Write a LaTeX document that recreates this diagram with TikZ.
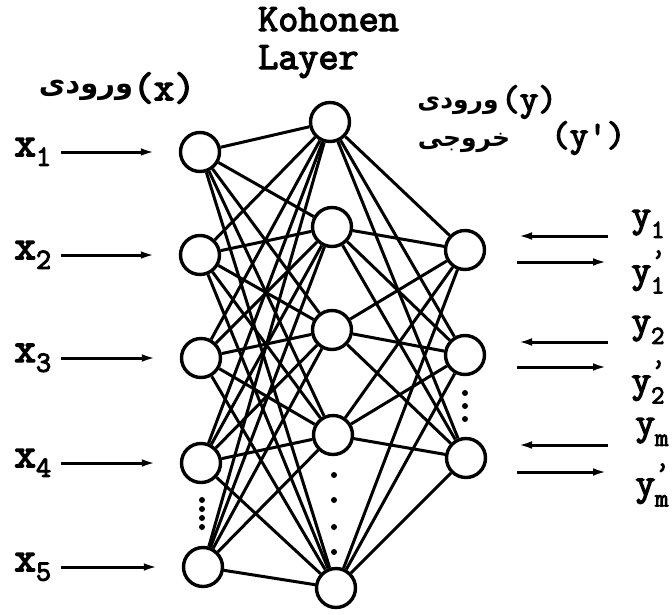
\documentclass[tikz,border=0pt]{standalone}
\usepackage{fontspec}
\newfontfamily\farsi[Script=Arabic]{DejaVu Sans}
\newfontfamily\typebold[FakeBold=3.5]{Latin Modern Mono}
\usetikzlibrary{arrows.meta}
\TeXXeTstate=1
\newcommand{\ylab}[2]{y\rlap{\raisebox{0.38em}{\fontsize{28}{28}\selectfont#1}}\raisebox{-0.3em}{\fontsize{26}{26}\selectfont#2}}
\begin{document}
\begin{tikzpicture}[
  x=1pt, y=-1pt,
  every node/.style={
    inner sep=1pt,
    font=\typebold\fontsize{42}{42}\selectfont
  },
  neuron/.style={draw, circle, line width=3.4pt, minimum size=39pt},
  link/.style={line width=3pt},
  feed/.style={line width=3pt, -{Latex[length=15pt,width=7.5pt]}},
  xfeed/.style={feed, shorten <=8pt, shorten >=23pt},
  ytag/.style={font=\typebold\fontsize{38}{38}\selectfont},
  title/.style={font=\typebold\fontsize{39}{38}\selectfont, align=left},
  paren/.style={font=\typebold\fontsize{40}{40}\selectfont, anchor=west},
  farsitext/.style={font=\farsi\bfseries\fontsize{29}{32}\selectfont}
]
\useasboundingbox (0,0) rectangle (672,614);
\node[neuron] (i1) at (200,152) {};
\node[neuron] (i2) at (200,255) {};
\node[neuron] (i3) at (201,358) {};
\node[neuron] (i4) at (201,463) {};
\node[neuron] (i5) at (203,567) {};
\node[neuron] (k1) at (330,122) {};
\node[neuron] (k2) at (332,227) {};
\node[neuron] (k3) at (332,330) {};
\node[neuron] (k4) at (333,435) {};
\node[neuron] (k5) at (336,588) {};
\node[neuron] (o1) at (465,250) {};
\node[neuron] (o2) at (465,355) {};
\node[neuron] (o3) at (466,458) {};
\foreach \a in {1,...,5}
  \foreach \b in {1,...,5}
    \draw[link] (i\a) -- (k\b);
\foreach \b in {1,...,5}
  \foreach \c in {1,2,3}
    \draw[link] (k\b) -- (o\c);
\foreach \y in {500,509,518,527} \fill (202,\y) circle (3);
\foreach \y in {475,500,527,552} \fill (334,\y) circle (3);
\foreach \y in {393,406,419} \fill (465,\y) circle (3);
\node (x1) at (33,152) {x\textsubscript{1}};
\node (x2) at (33,255) {x\textsubscript{2}};
\node (x3) at (33,358) {x\textsubscript{3}};
\node (x4) at (33,463) {x\textsubscript{4}};
\node (x5) at (33,567) {x\textsubscript{5}};
\draw[xfeed] (x1) -- (i1);
\draw[xfeed] (x2) -- (i2);
\draw[xfeed] (x3) -- (i3);
\draw[xfeed] (x4) -- (i4);
\draw[xfeed] (x5) -- (i5);
\node[title, anchor=north west] (koh) at (257,6) {Kohonen\\Layer};
\node[farsitext] (inx) at (86,90) {\beginR ورودی\endR};
\node[paren] (px) at (132,88) {(x)};
\node[farsitext, font=\farsi\bfseries\fontsize{25}{28}\selectfont] (iny) at (458,106) {\beginR ورودی\endR};
\node[paren, font=\typebold\fontsize{36}{36}\selectfont] (py) at (500,102) {(y)};
\node[farsitext, font=\farsi\bfseries\fontsize{25}{28}\selectfont] (outy) at (464,143) {\beginR خروجی\endR};
\node[paren, font=\typebold\fontsize{36}{36}\selectfont] (pyy) at (550,138) {(y')};
\foreach \n/\ya/\yb in {1/236/262, 2/342/367, 3/445/472} {
  \coordinate (ys\n) at (608,\ya);
  \coordinate (ye\n) at (517,\ya);
  \coordinate (zs\n) at (517,\yb);
  \coordinate (ze\n) at (608,\yb);
  \draw[feed] (ys\n) -- (ye\n);
  \draw[feed] (zs\n) -- (ze\n);
}
\node[ytag] (y1) at (648,224) {\ylab{}{1}};
\node[ytag] (y1p) at (648,272) {\ylab{’}{1}};
\node[ytag] (y2) at (648,330) {\ylab{}{2}};
\node[ytag] (y2p) at (648,382) {\ylab{’}{2}};
\node[ytag] (ym) at (652,432) {\ylab{}{m}};
\node[ytag] (ymp) at (652,485) {\ylab{’}{m}};
\end{tikzpicture}
\end{document}
